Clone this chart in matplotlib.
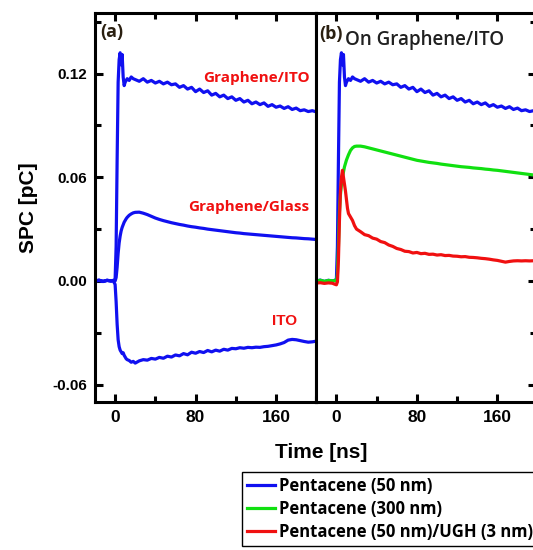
import matplotlib
matplotlib.use("Agg")
import matplotlib.pyplot as plt
from matplotlib.ticker import MultipleLocator

# time axis shared by all traces (ns)
time_ns = [-20, -16, -12, -8, -4, -2, 0, 1, 2, 3, 4, 5, 6, 7, 8, 9, 10, 11, 12,
           14, 16, 18, 20, 24, 28, 32, 36, 40, 44, 48, 52, 56, 60, 64, 68, 72,
           76, 80, 84, 88, 92, 96, 100, 104, 108, 112, 116, 120, 124, 128, 132,
           136, 140, 144, 148, 152, 156, 160, 164, 168, 172, 176, 180, 184, 188,
           192, 196, 200]

# panel (a), SPC in pC
graphene_ito = [0.0, 0.0005, -0.0003, 0.0004, 0.0, 0.0003, 0.001, 0.02, 0.07,
                0.115, 0.128, 0.132, 0.125, 0.131, 0.118, 0.113, 0.115, 0.116,
                0.117, 0.116, 0.118, 0.117, 0.1165,
                0.1155, 0.1170, 0.1150, 0.1160, 0.1145, 0.1155, 0.1140, 0.1150,
                0.1135, 0.1140, 0.1120, 0.1130, 0.1110, 0.1120, 0.1095, 0.1110,
                0.1090, 0.1100, 0.1075, 0.1085, 0.1065, 0.1075, 0.1055, 0.1065,
                0.1045, 0.1055, 0.1035, 0.1045, 0.1025, 0.1035, 0.1020, 0.1030,
                0.1010, 0.1020, 0.1005, 0.1012, 0.0998, 0.1008, 0.0992, 0.1000,
                0.0985, 0.0990, 0.0980, 0.0985, 0.0978]

graphene_glass = [0.0, 0.0004, -0.0003, 0.0003, 0.0, 0.0002, 0.0, 0.002, 0.008,
                  0.016, 0.022, 0.026, 0.029, 0.031, 0.0325, 0.034, 0.035, 0.036,
                  0.0368, 0.038, 0.0388, 0.0394, 0.0397,
                  0.0398, 0.0392, 0.0384, 0.0374, 0.0364, 0.0356, 0.0349, 0.0343,
                  0.0337, 0.0332, 0.0327, 0.0323, 0.0318, 0.0314, 0.0311, 0.0307,
                  0.0304, 0.0300, 0.0297, 0.0294, 0.0291, 0.0288, 0.0285, 0.0282,
                  0.0279, 0.0277, 0.0274, 0.0272, 0.0270, 0.0268, 0.0266, 0.0264,
                  0.0262, 0.0260, 0.0258, 0.0256, 0.0254, 0.0252, 0.0250, 0.0249,
                  0.0247, 0.0245, 0.0244, 0.0242, 0.0240]

ito = [0.0, 0.0003, -0.0002, 0.0004, 0.0, 0.0002, -0.002, -0.012, -0.025,
       -0.034, -0.038, -0.040, -0.041, -0.042, -0.0415, -0.043, -0.044, -0.045,
       -0.0455, -0.046, -0.047, -0.0465, -0.0475,
       -0.0462, -0.0455, -0.0458, -0.0448, -0.0452, -0.0442, -0.0447, -0.0435,
       -0.0440, -0.0428, -0.0433, -0.0420, -0.0427, -0.0412, -0.0418, -0.0408,
       -0.0414, -0.0402, -0.0410, -0.0400, -0.0406, -0.0395, -0.0400, -0.0390,
       -0.0392, -0.0386, -0.0389, -0.0384, -0.0386, -0.0383, -0.0384, -0.0380,
       -0.0378, -0.0374, -0.0370, -0.0364, -0.0356, -0.0342, -0.0338, -0.0340,
       -0.0345, -0.0350, -0.0354, -0.0352, -0.0348]

# panel (b), on Graphene/ITO
pent_50 = graphene_ito

pent_300 = [0.0, 0.0004, -0.0002, 0.0003, 0.0001, 0.0002, 0.0, 0.004, 0.02,
            0.040, 0.050, 0.056, 0.060, 0.063, 0.066, 0.068, 0.070, 0.0715,
            0.073, 0.0755, 0.077, 0.0778, 0.0780,
            0.0780, 0.0776, 0.0770, 0.0764, 0.0758, 0.0752, 0.0746, 0.0740,
            0.0734, 0.0728, 0.0722, 0.0716, 0.0710, 0.0704, 0.0698, 0.0694,
            0.0690, 0.0686, 0.0683, 0.0680, 0.0676, 0.0673, 0.0670, 0.0667,
            0.0664, 0.0661, 0.0659, 0.0657, 0.0654, 0.0652, 0.0650, 0.0647,
            0.0645, 0.0642, 0.0640, 0.0637, 0.0634, 0.0631, 0.0628, 0.0625,
            0.0622, 0.0619, 0.0616, 0.0613, 0.0610]

pent_50_ugh = [-0.0012, -0.0010, -0.0014, -0.0011, -0.0013, -0.0018, -0.0022,
               -0.0005, 0.012, 0.035, 0.052, 0.060, 0.064, 0.060, 0.056, 0.052,
               0.047, 0.042, 0.039, 0.037, 0.035, 0.032, 0.030,
               0.0285, 0.0268, 0.0262, 0.0248, 0.0242, 0.0228, 0.0222, 0.0208,
               0.0200, 0.0188, 0.0182, 0.0172, 0.0170, 0.0162, 0.0165, 0.0158,
               0.0160, 0.0154, 0.0155, 0.0150, 0.0152, 0.0147, 0.0148, 0.0144,
               0.0143, 0.0140, 0.0141, 0.0137, 0.0136, 0.0134, 0.0131, 0.0129,
               0.0126, 0.0122, 0.0119, 0.0114, 0.0109, 0.0113, 0.0116, 0.0117,
               0.0116, 0.0117, 0.0116, 0.0117, 0.0118]

legend_labels = ['Pentacene (50 nm)', 'Pentacene (300 nm)', 'Pentacene (50 nm)/UGH (3 nm)']

BLUE = '#1010f0'
GREEN = '#10e010'
RED = '#f01010'
LW = 2.3
TICK_FONT = dict(family='Liberation Sans', weight='bold')

fig = plt.figure(figsize=(5.33, 5.5), dpi=100)
W, H = 533, 550
bottom, top = 1 - 402 / H, 1 - 13 / H
ax_a = fig.add_axes([95 / W, bottom, 221.3 / W, top - bottom])
ax_b = fig.add_axes([316.3 / W, bottom, 219.3 / W, top - bottom])

ax_a.plot(time_ns, graphene_ito, color=BLUE, lw=LW)
ax_a.plot(time_ns, graphene_glass, color=BLUE, lw=LW)
ax_a.plot(time_ns, ito, color=BLUE, lw=LW)

l1, = ax_b.plot(time_ns, pent_50, color=BLUE, lw=LW)
l2, = ax_b.plot(time_ns, pent_300, color=GREEN, lw=LW)
l3, = ax_b.plot(time_ns, pent_50_ugh, color=RED, lw=LW)

ax_a.set_xlim(-20, 200)
ax_b.set_xlim(-20, 198)
for ax in (ax_a, ax_b):
    ax.set_ylim(-0.07, 0.155)
    ax.xaxis.set_major_locator(MultipleLocator(80))
    ax.xaxis.set_minor_locator(MultipleLocator(40))
    ax.yaxis.set_major_locator(MultipleLocator(0.06))
    ax.yaxis.set_minor_locator(MultipleLocator(0.03))
    for s in ax.spines.values():
        s.set_linewidth(2.2)
    ax.tick_params(which='both', direction='in', width=2.2, top=True,
                   labelsize=12.5, pad=6)
    ax.tick_params(which='major', length=6)
    ax.tick_params(which='minor', length=4)
    for lab in ax.get_xticklabels():
        lab.set(**TICK_FONT)

ax_a.tick_params(which='both', right=False)
ax_a.set_yticklabels(['%.2f' % v for v in ax_a.get_yticks()], **TICK_FONT)
ax_a.tick_params(axis='y', labelsize=11)
ax_b.tick_params(which='both', left=False, right=True, labelleft=False)

ax_a.set_ylabel('SPC [pC]', fontsize=15, fontweight='bold', family='Liberation Sans', labelpad=10)
fig.text(321 / W, 1 - 453 / H, 'Time [ns]', fontsize=15, fontweight='bold',
         family='Liberation Sans', ha='center', va='center')

ax_a.text(0.025, 0.95, '(a)', transform=ax_a.transAxes, fontsize=13, fontweight='bold',
          family='Open Sans', color='#2a1f10', va='center')
ax_b.text(0.015, 0.945, '(b)', transform=ax_b.transAxes, fontsize=13, fontweight='bold',
          family='Open Sans', color='#2a1f10', va='center')
ax_b.text(0.13, 0.93, 'On Graphene/ITO', transform=ax_b.transAxes, fontsize=13.5,
          fontweight='semibold', family='Open Sans', color='#202020', va='center')

ax_a.annotate('Graphene/ITO', xy=(0.97, 0.833), xycoords='axes fraction', ha='right',
              va='center', color=RED, fontsize=11, fontweight='bold', family='Open Sans')
ax_a.annotate('Graphene/Glass', xy=(0.97, 0.5), xycoords='axes fraction', ha='right',
              va='center', color=RED, fontsize=11, fontweight='bold', family='Open Sans')
ax_a.annotate('ITO', xy=(0.915, 0.208), xycoords='axes fraction', ha='right',
              va='center', color=RED, fontsize=11, fontweight='bold', family='Liberation Sans')

leg = fig.legend([l1, l2, l3], legend_labels, loc='upper left',
                 bbox_to_anchor=(242 / W, 1 - 472 / H), borderaxespad=0,
                 fancybox=False, edgecolor='black', framealpha=1,
                 prop=dict(family='Open Sans', weight='bold', size=12),
                 handlelength=1.7, handletextpad=0.2, labelspacing=0.3,
                 borderpad=0.3)
leg.get_frame().set_linewidth(1.0)

fig.savefig('out.png', dpi=100)
